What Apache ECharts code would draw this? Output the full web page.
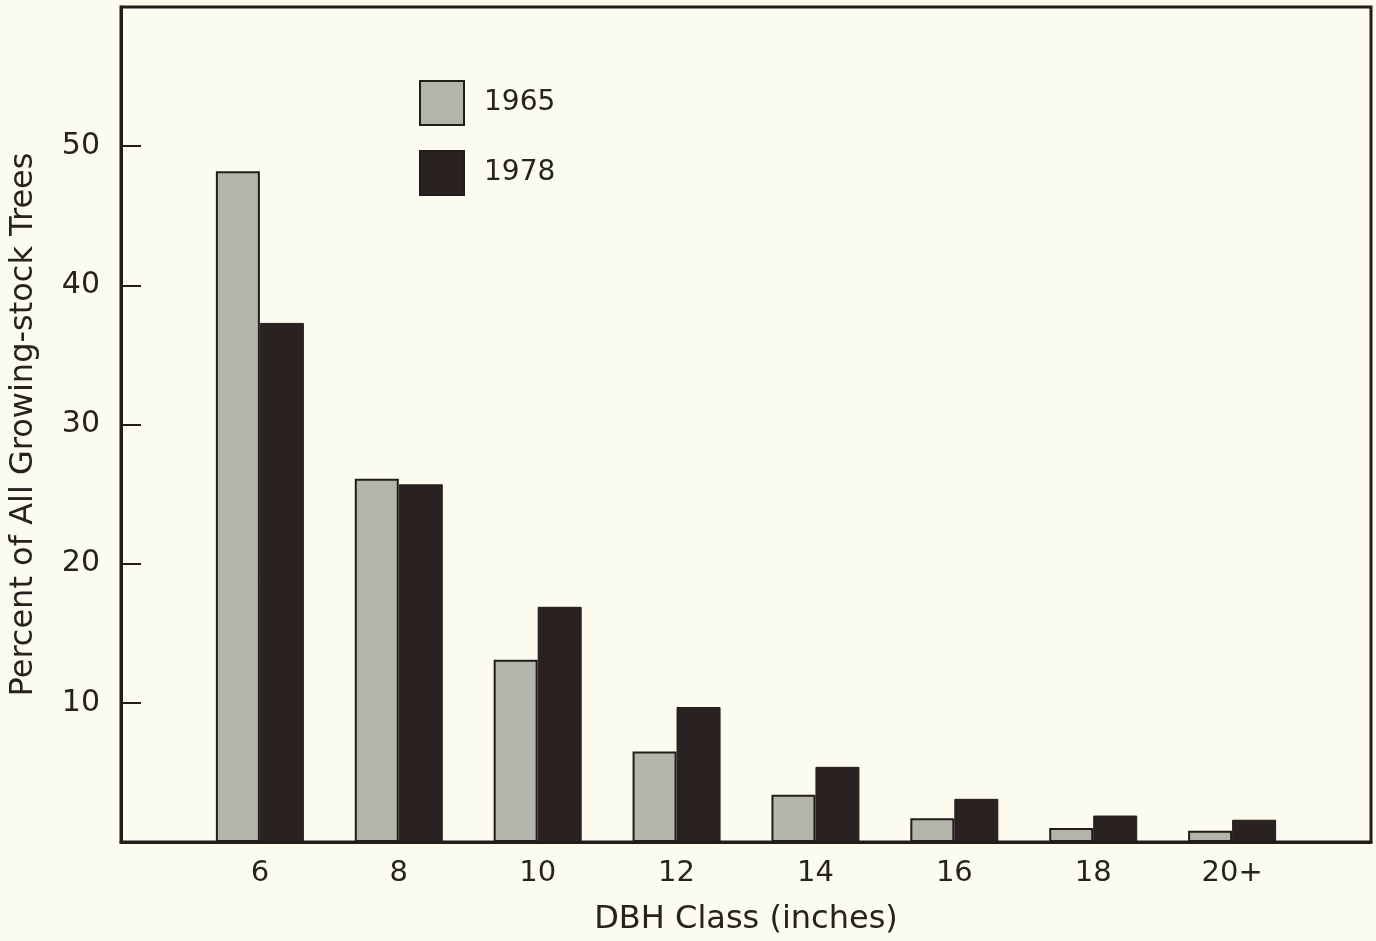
<!DOCTYPE html>
<html><head><meta charset="utf-8">
<script src="https://cdn.jsdelivr.net/npm/echarts@6/dist/echarts.min.js"></script>
<style>html,body{margin:0;padding:0;background:#fbfbef;}#c{width:1376px;height:941px;}</style>
</head><body><div id="c"></div>
<script>
const categories = ['', '6', '8', '10', '12', '14', '16', '18', '20+', ''];
const series1965 = [null, 48.2, 26.1, 13.1, 6.5, 3.4, 1.7, 1.0, 0.8, null];
const series1978 = [null, 37.3, 25.7, 16.9, 9.7, 5.4, 3.1, 1.9, 1.6, null];
const yTicks = [10, 20, 30, 40, 50];

const font = 'DejaVu Sans, Liberation Sans, sans-serif';
const dark = '#221c1a';
const txt = '#262220';
const chart = echarts.init(document.getElementById('c'));
chart.setOption({
  backgroundColor: '#fbfbef',
  animation: false,
  textStyle: { fontFamily: font },
  grid: { left: 119, right: 5, top: 7, bottom: 94, show: true, borderColor: dark, borderWidth: 3, backgroundColor: 'transparent' },
  legend: {
    orient: 'vertical', left: 419, top: 80, padding: 0, itemWidth: 44, itemHeight: 44, itemGap: 24,
    icon: 'rect',
    textStyle: { fontSize: 28, color: txt, fontFamily: font, padding: [0, 0, 0, 15] },
    data: ['1965', '1978']
  },
  xAxis: {
    type: 'category', data: categories, boundaryGap: false,
    name: 'DBH Class (inches)', nameLocation: 'middle', nameGap: 62,
    nameTextStyle: { fontSize: 32, color: txt, fontFamily: font },
    axisLine: { lineStyle: { color: dark, width: 3 } },
    axisTick: { show: false },
    axisLabel: { fontSize: 29, color: txt, margin: 17, fontFamily: font },
    splitLine: { show: false }
  },
  yAxis: {
    type: 'value', min: 0, max: 60, interval: 10,
    name: 'Percent of All Growing-stock Trees', nameLocation: 'middle', nameGap: 81,
    nameTextStyle: { fontSize: 32, color: txt, fontFamily: font },
    axisLine: { show: true, lineStyle: { color: dark, width: 3 } },
    axisTick: { show: true, inside: true, length: 20, lineStyle: { color: dark, width: 2 },
      customValues: yTicks },
    axisLabel: { fontSize: 30, color: txt, margin: 21, fontFamily: font,
      customValues: yTicks,
      formatter: v => (yTicks.indexOf(v) >= 0 ? String(v) : '') },
    splitLine: { show: false }
  },
  series: [
    { name: '1965', type: 'bar', data: series1965, barWidth: 44, barGap: '0%',
      itemStyle: { color: '#b3b4aa', borderColor: dark, borderWidth: 2 } },
    { name: '1978', type: 'bar', data: series1978, barWidth: 44, barGap: '0%',
      itemStyle: { color: '#2a2220', borderColor: dark, borderWidth: 1 } }
  ]
});
</script></body></html>
